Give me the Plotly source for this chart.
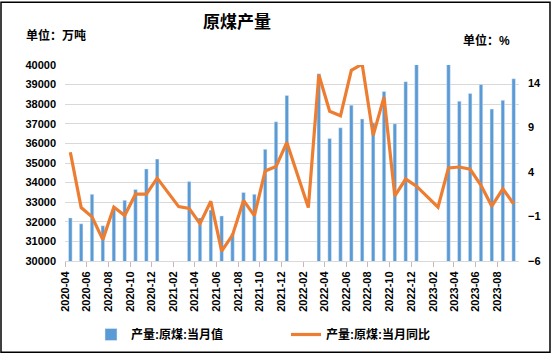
import plotly.graph_objects as go

months = ["2020-04","2020-05","2020-06","2020-07","2020-08","2020-09","2020-10","2020-11","2020-12",
          "2021-01","2021-02","2021-03","2021-04","2021-05","2021-06","2021-07","2021-08","2021-09","2021-10","2021-11","2021-12",
          "2022-01","2022-02","2022-03","2022-04","2022-05","2022-06","2022-07","2022-08","2022-09","2022-10","2022-11","2022-12",
          "2023-01","2023-02","2023-03","2023-04","2023-05","2023-06","2023-07","2023-08","2023-09"]

output = [32200, 31900, 33400, 31800, 32700, 33100, 33650, 34700, 35200,
          None, None, 34050, 32200, 32600, 32300, 31400, 33500, 33400, 35700, 37100, 38450,
          None, None, 39550, 36250, 36800, 37950, 37250, 37050, 38650, 37000, 39150, 40300,
          None, None, 41200, 38150, 38550, 39000, 37750, 38200, 39300]

yoy = [6.2, 0.0, -1.05, -3.6, 0.05, -0.9, 1.5, 1.5, 3.3,
       None, 0.1, -0.1, -1.8, 0.7, -4.9, -3.1, 0.8, -0.9, 4.1, 4.6, 7.3,
       None, 0.0, 14.9, 10.8, 10.3, 15.4, 16.1, 8.1, 12.4, 1.3, 3.2, 2.4,
       None, 0.05, 4.45, 4.55, 4.3, 2.5, 0.15, 2.1, 0.4]

x_ticks = months[::2]
left_ticks = list(range(30000, 40001, 1000))
right_ticks = [-6, -1, 4, 9, 14]

FONT = "Liberation Sans, Arial, Noto Sans CJK SC, sans-serif"

fig = go.Figure()
fig.add_trace(go.Bar(
    x=months, y=output, name="产量:原煤:当月值",
    marker_color="#5B9BD5", xperiod="M1", xperiodalignment="middle",
))
fig.add_trace(go.Scatter(
    x=months, y=yoy, name="产量:原煤:当月同比", yaxis="y2",
    mode="lines", line=dict(color="#ED7D31", width=3.2), connectgaps=True,
    xperiod="M1", xperiodalignment="middle",
))

L, R, T, B = 65, 34, 65, 96
W, H = 553, 361
pw, ph = W - L - R, H - T - B

def px(x):
    return (x - L) / pw

def py(y):
    return (H - B - y) / ph

fig.update_layout(
    width=W, height=H,
    margin=dict(l=L, r=R, t=T, b=B, pad=0),
    paper_bgcolor="white", plot_bgcolor="white",
    font=dict(family=FONT, size=11, color="black", weight="bold"),
    bargap=0.66,
    showlegend=True,
    legend=dict(orientation="h", x=px(91), xanchor="left", y=py(340), yanchor="middle",
                font=dict(size=12, weight="bold"), entrywidth=150, entrywidthmode="pixels",
                itemwidth=30),
    xaxis=dict(
        type="date", range=["2020-04-01", "2023-10-01"],
        tickmode="array", tickvals=x_ticks, tickformat="%Y-%m", tickangle=-90,
        showgrid=False, showline=True, linecolor="#d9d9d9", linewidth=1,
        ticks="outside", ticklen=5, tickcolor="#c9b8b8",
        tickfont=dict(size=11, weight="bold"),
    ),
    yaxis=dict(
        range=[30000, 40000], tickvals=left_ticks, tickformat="d", showgrid=True, gridcolor="#d9d9d9",
        zeroline=False, showline=False, ticks="", ticklabelstandoff=8,
        tickfont=dict(size=11, weight="bold"),
    ),
    yaxis2=dict(
        range=[-6, 16], tickvals=right_ticks, overlaying="y", side="right",
        showgrid=False, zeroline=False, showline=False, ticks="", ticklabelstandoff=8,
        tickfont=dict(size=11, weight="bold"),
    ),
    annotations=[
        dict(text="原煤产量", x=px(237), y=py(22), xref="paper", yref="paper",
             showarrow=False, xanchor="center", yanchor="middle",
             font=dict(size=17, weight="bold")),
        dict(text="单位：万吨", x=px(24), y=py(35), xref="paper", yref="paper",
             showarrow=False, xanchor="left", yanchor="middle",
             font=dict(size=12, weight="bold")),
        dict(text="单位：%", x=px(461), y=py(40), xref="paper", yref="paper",
             showarrow=False, xanchor="left", yanchor="middle",
             font=dict(size=12, weight="bold")),
    ],
    shapes=[
        dict(type="rect", xref="paper", yref="paper",
             x0=px(1), x1=px(550), y0=py(358), y1=py(1),
             line=dict(color="black", width=1.5), fillcolor="rgba(0,0,0,0)", layer="above"),
    ],
)

fig.write_html("out.html", post_script="document.body.style.margin='0';",
               config={"displayModeBar": False})
